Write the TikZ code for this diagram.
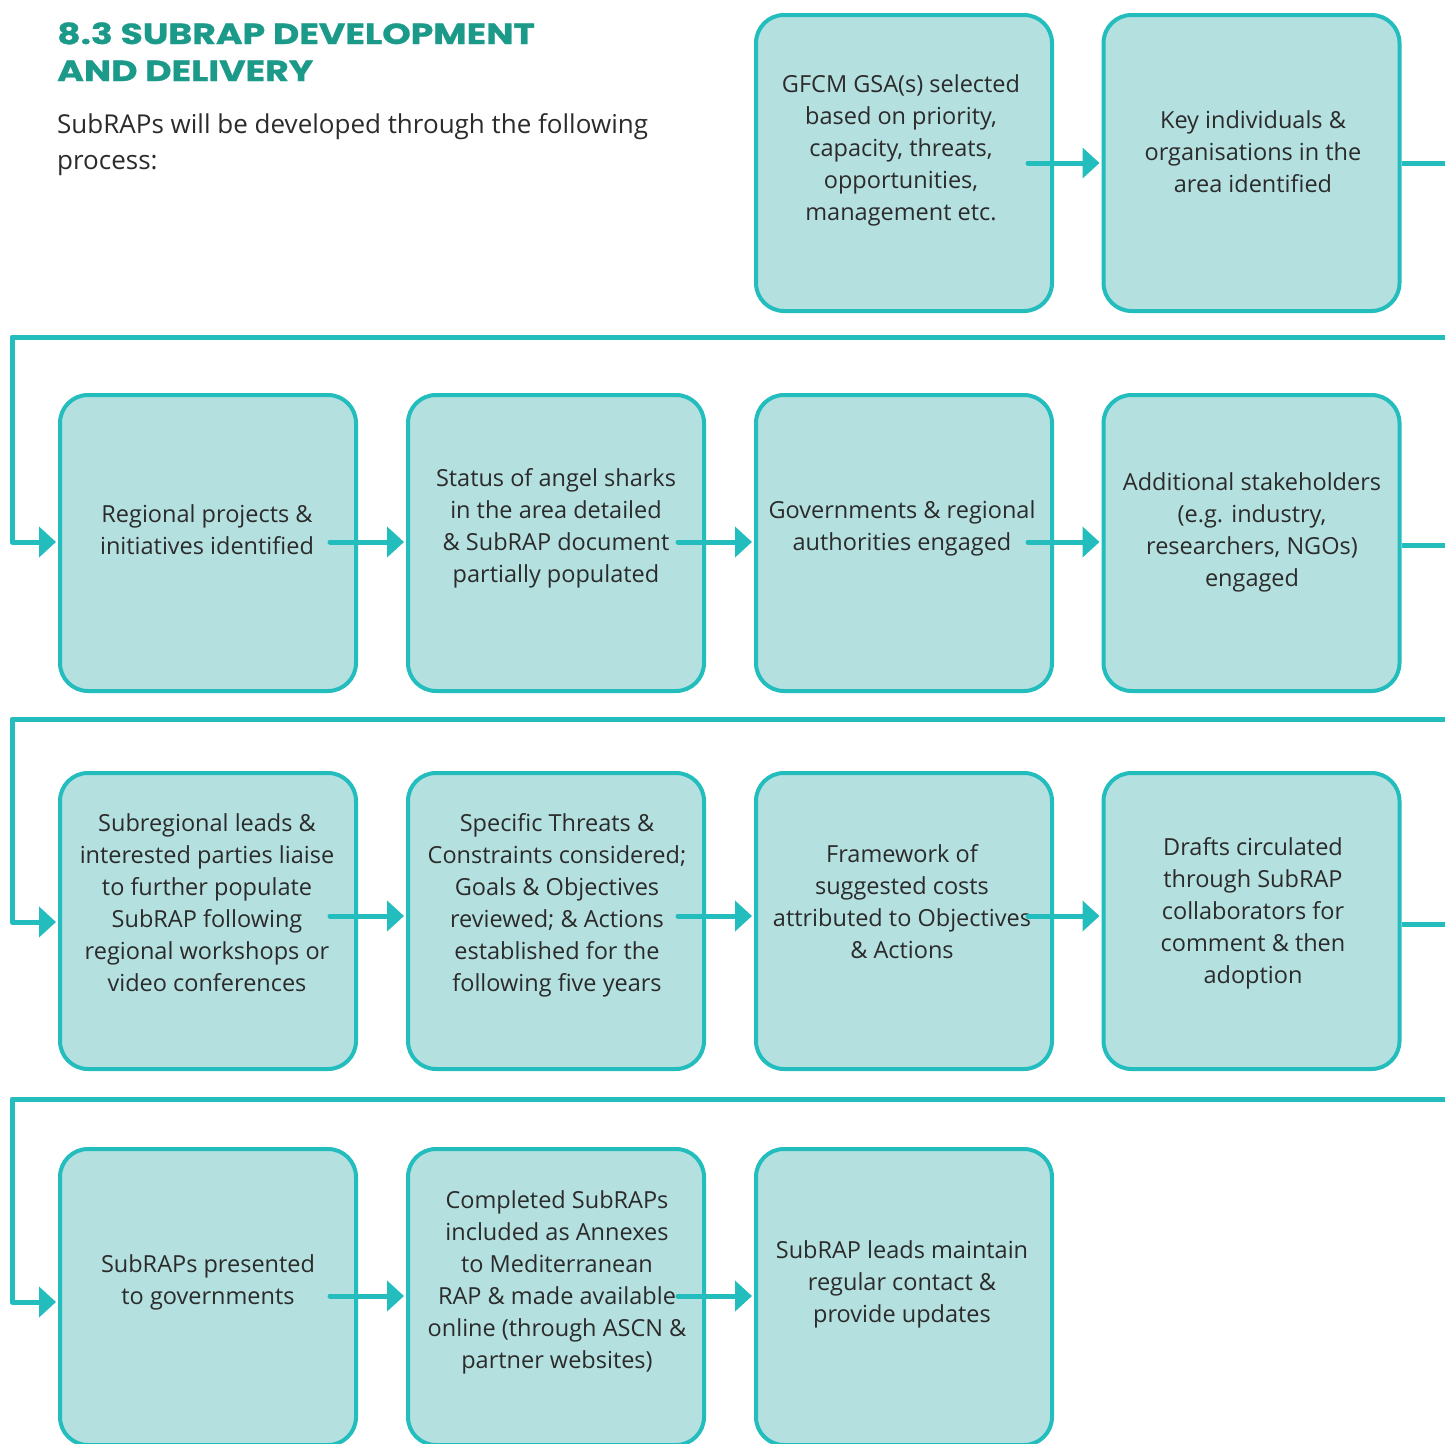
\documentclass[tikz,border=0pt]{standalone}
\usepackage{fontspec}
\setmainfont{Open Sans}
\newfontfamily\titlefont{Poppins}[FakeStretch=1.25,FakeBold=1]
\usetikzlibrary{arrows.meta}
\definecolor{boxfill}{HTML}{B5E0E0}
\definecolor{tealline}{HTML}{23BDBD}
\definecolor{titlecol}{HTML}{1B9A89}
\definecolor{txtcol}{HTML}{2B2B2B}
\begin{document}
\begin{tikzpicture}[x=1pt,y=-1pt,
  stepbox/.style={draw=tealline, fill=boxfill, line width=4pt, rounded corners=28pt,
    minimum width=296pt, minimum height=296pt, inner sep=0pt},
  boxtext/.style={text=txtcol, align=center, font=\fontsize{23.5}{32}\selectfont, inner sep=0pt},
  flow/.style={draw=tealline, line width=5pt, line join=round},
  arr/.style={flow, line cap=round, -{Triangle[length=17pt,width=30pt]}},
  loop/.style={flow, -{Triangle[length=17pt,width=30pt]}},
]
\useasboundingbox (0,0) rectangle (1445,1443);

% title and intro
\node[anchor=base west, inner sep=0pt, text=titlecol, font=\titlefont\bfseries\fontsize{29}{36}\selectfont] (title1) at (57,44) {8.3 SUBRAP DEVELOPMENT};
\node[anchor=base west, inner sep=0pt, text=titlecol, font=\titlefont\bfseries\fontsize{29}{36}\selectfont] (title2) at (57,81) {AND DELIVERY};
\node[anchor=base west, inner sep=0pt, text=txtcol, font=\fontsize{26}{36}\selectfont] (intro1) at (57,133) {SubRAPs will be developed through the following};
\node[anchor=base west, inner sep=0pt, text=txtcol, font=\fontsize{26}{36}\selectfont] (intro2) at (57,169) {process:};

% boxes
\node[stepbox] (b1) at (904,163) {};
\node[stepbox] (b2) at (1251.5,163) {};
\node[stepbox] (b3) at (208,543) {};
\node[stepbox] (b4) at (556,543) {};
\node[stepbox] (b5) at (904,543) {};
\node[stepbox] (b6) at (1251.5,543) {};
\node[stepbox] (b7) at (208,921) {};
\node[stepbox] (b8) at (556,921) {};
\node[stepbox] (b9) at (904,921) {};
\node[stepbox] (b10) at (1251.5,921) {};
\node[stepbox] (b11) at (208,1297) {};
\node[stepbox] (b12) at (556,1297) {};
\node[stepbox] (b13) at (904,1297) {};

% texts
\node[boxtext] (t1) at (901,150) {GFCM GSA(s) selected\\based on priority,\\capacity, threats,\\opportunities,\\management etc.};
\node[boxtext] (t2) at (1253,152) {Key individuals \&\\organisations in the\\area identified};
\node[boxtext] (t3) at (207,530) {Regional projects \&\\initiatives identified};
\node[boxtext] (t4) at (556,528) {Status of angel sharks\\in the area detailed\\\& SubRAP document\\partially populated};
\node[boxtext] (t5) at (902,528) {Governments \& regional\\authorities engaged};
\node[boxtext] (t6) at (1252,532) {Additional stakeholders\\(e.g. industry,\\researchers, NGOs)\\engaged};
\node[boxtext] (t7) at (207,903) {Subregional leads \&\\interested parties liaise\\to further populate\\SubRAP following\\regional workshops or\\video conferences};
\node[boxtext] (t8) at (557,905) {Specific Threats \&\\Constraints considered;\\Goals \& Objectives\\reviewed; \& Actions\\established for the\\following five years};
\node[boxtext] (t9) at (902,902) {Framework of\\suggested costs\\attributed to Objectives\\\& Actions};
\node[boxtext] (t10) at (1253,913) {Drafts circulated\\through SubRAP\\collaborators for\\comment \& then\\adoption};
\node[boxtext] (t11) at (208,1282) {SubRAPs presented\\to governments};
\node[boxtext] (t12) at (557,1282) {Completed SubRAPs\\included as Annexes\\to Mediterranean\\RAP \& made available\\online (through ASCN \&\\partner websites)};
\node[boxtext] (t13) at (902,1284) {SubRAP leads maintain\\regular contact \&\\provide updates};

% off-page turn points
\coordinate (r1) at (1445,163);
\coordinate (r1b) at (1445,337);
\coordinate (l1) at (12,337);
\coordinate (r2) at (1445,545);
\coordinate (r2b) at (1445,719);
\coordinate (l2) at (12,719);
\coordinate (r3) at (1445,924);
\coordinate (r3b) at (1445,1099);
\coordinate (l3) at (12,1099);

% arrows between boxes
\draw[arr] ([xshift=-26pt]b1.east) -- ([xshift=-2pt]b2.west);
\draw[arr] ([xshift=-28pt,yshift=1pt]b3.east) -- ([xshift=-2pt,yshift=1pt]b4.west);
\draw[arr] ([xshift=-28pt,yshift=1pt]b4.east) -- ([xshift=-2pt,yshift=1pt]b5.west);
\draw[arr] ([xshift=-26pt,yshift=1pt]b5.east) -- ([xshift=-2pt,yshift=1pt]b6.west);
\draw[arr] ([xshift=-28pt,yshift=5pt]b7.east) -- ([xshift=-2pt,yshift=5pt]b8.west);
\draw[arr] ([xshift=-28pt,yshift=5pt]b8.east) -- ([xshift=-2pt,yshift=5pt]b9.west);
\draw[arr] ([xshift=-26pt,yshift=5pt]b9.east) -- ([xshift=-2pt,yshift=5pt]b10.west);
\draw[arr] ([xshift=-28pt,yshift=1pt]b11.east) -- ([xshift=-2pt,yshift=1pt]b12.west);
\draw[arr] ([xshift=-28pt,yshift=1pt]b12.east) -- ([xshift=-2pt,yshift=1pt]b13.west);

% row exits and returns
\draw[flow] (b2.east) -- (r1);
\draw[loop] (r1b) -- (l1) |- ([xshift=-2pt,yshift=1pt]b3.west);
\draw[flow] ([yshift=-2pt]b6.east) -- (r2);
\draw[loop] (r2b) -- (l2) |- ([xshift=-2pt,yshift=-1pt]b7.west);
\draw[flow] ([yshift=-3pt]b10.east) -- (r3);
\draw[loop] (r3b) -- (l3) |- ([xshift=-2pt,yshift=-5pt]b11.west);
\end{tikzpicture}
\end{document}
